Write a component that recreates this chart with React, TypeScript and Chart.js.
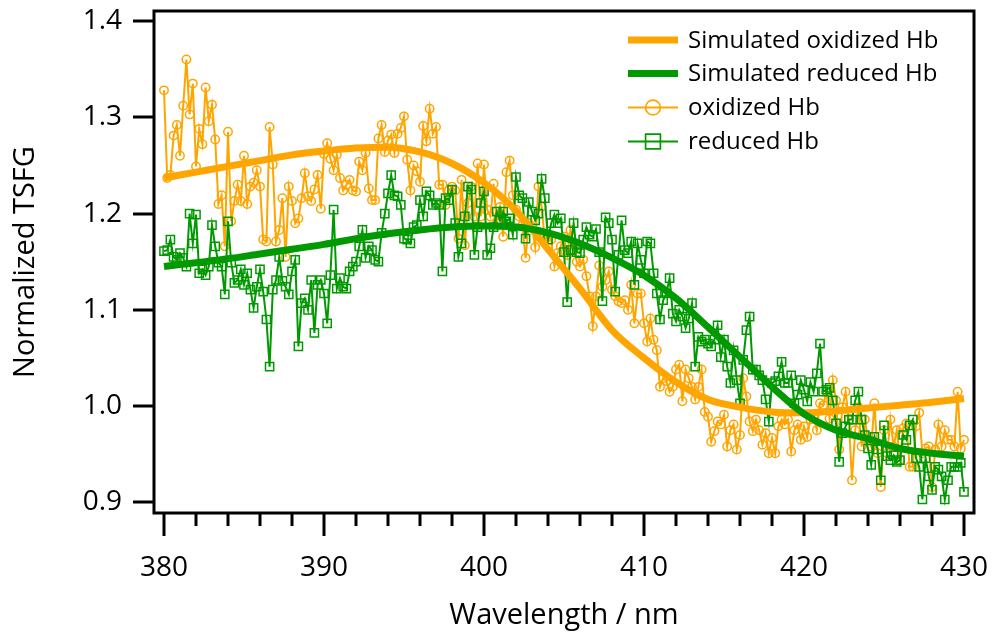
import React, { useEffect, useRef } from 'react';
import { Chart, registerables } from 'chart.js';

Chart.register(...registerables);

// Measured wavelengths (nm)
const WAVELENGTH = [
  380, 380.2, 380.4, 380.6, 380.8, 381, 381.2, 381.4, 381.6, 381.8,
  382, 382.2, 382.4, 382.6, 382.8, 383, 383.2, 383.4, 383.6, 383.8,
  384, 384.2, 384.4, 384.6, 384.8, 385, 385.2, 385.4, 385.6, 385.8,
  386, 386.2, 386.4, 386.6, 386.8, 387, 387.2, 387.4, 387.6, 387.8,
  388, 388.2, 388.4, 388.6, 388.8, 389, 389.2, 389.4, 389.6, 389.8,
  390, 390.2, 390.4, 390.6, 390.8, 391, 391.2, 391.4, 391.6, 391.8,
  392, 392.2, 392.4, 392.6, 392.8, 393, 393.2, 393.4, 393.6, 393.8,
  394, 394.2, 394.4, 394.6, 394.8, 395, 395.2, 395.4, 395.6, 395.8,
  396, 396.2, 396.4, 396.6, 396.8, 397, 397.2, 397.4, 397.6, 397.8,
  398, 398.2, 398.4, 398.6, 398.8, 399, 399.2, 399.4, 399.6, 399.8,
  400, 400.2, 400.4, 400.6, 400.8, 401, 401.2, 401.4, 401.6, 401.8,
  402, 402.2, 402.4, 402.6, 402.8, 403, 403.2, 403.4, 403.6, 403.8,
  404, 404.2, 404.4, 404.6, 404.8, 405, 405.2, 405.4, 405.6, 405.8,
  406, 406.2, 406.4, 406.6, 406.8, 407, 407.2, 407.4, 407.6, 407.8,
  408, 408.2, 408.4, 408.6, 408.8, 409, 409.2, 409.4, 409.6, 409.8,
  410, 410.2, 410.4, 410.6, 410.8, 411, 411.2, 411.4, 411.6, 411.8,
  412, 412.2, 412.4, 412.6, 412.8, 413, 413.2, 413.4, 413.6, 413.8,
  414, 414.2, 414.4, 414.6, 414.8, 415, 415.2, 415.4, 415.6, 415.8,
  416, 416.2, 416.4, 416.6, 416.8, 417, 417.2, 417.4, 417.6, 417.8,
  418, 418.2, 418.4, 418.6, 418.8, 419, 419.2, 419.4, 419.6, 419.8,
  420, 420.2, 420.4, 420.6, 420.8, 421, 421.2, 421.4, 421.6, 421.8,
  422, 422.2, 422.4, 422.6, 422.8, 423, 423.2, 423.4, 423.6, 423.8,
  424, 424.2, 424.4, 424.6, 424.8, 425, 425.2, 425.4, 425.6, 425.8,
  426, 426.2, 426.4, 426.6, 426.8, 427, 427.2, 427.4, 427.6, 427.8,
  428, 428.2, 428.4, 428.6, 428.8, 429, 429.2, 429.4, 429.6, 429.8,
  430,
];

// Measured normalized TSFG, oxidized Hb
const OXIDIZED = [
  1.328, 1.237, 1.240, 1.281, 1.292, 1.260, 1.312, 1.360, 1.303, 1.335,
  1.249, 1.288, 1.272, 1.331, 1.296, 1.313, 1.277, 1.210, 1.219, 1.166,
  1.285, 1.192, 1.213, 1.230, 1.213, 1.260, 1.210, 1.228, 1.232, 1.245,
  1.228, 1.173, 1.171, 1.290, 1.251, 1.171, 1.183, 1.216, 1.155, 1.228,
  1.213, 1.190, 1.195, 1.216, 1.242, 1.218, 1.213, 1.225, 1.240, 1.205,
  1.262, 1.273, 1.257, 1.245, 1.261, 1.237, 1.224, 1.230, 1.235, 1.224,
  1.223, 1.254, 1.245, 1.263, 1.226, 1.214, 1.214, 1.278, 1.292, 1.264,
  1.276, 1.282, 1.263, 1.283, 1.289, 1.301, 1.256, 1.224, 1.250, 1.244,
  1.233, 1.291, 1.275, 1.309, 1.283, 1.290, 1.230, 1.230, 1.209, 1.224,
  1.228, 1.224, 1.174, 1.235, 1.167, 1.211, 1.228, 1.197, 1.252, 1.197,
  1.251, 1.204, 1.197, 1.231, 1.190, 1.207, 1.176, 1.243, 1.255, 1.219,
  1.204, 1.197, 1.188, 1.154, 1.190, 1.186, 1.165, 1.228, 1.207, 1.173,
  1.176, 1.173, 1.145, 1.159, 1.166, 1.176, 1.157, 1.183, 1.162, 1.150,
  1.145, 1.152, 1.135, 1.114, 1.083, 1.114, 1.146, 1.124, 1.131, 1.140,
  1.121, 1.114, 1.109, 1.107, 1.110, 1.100, 1.126, 1.086, 1.117, 1.117,
  1.086, 1.067, 1.091, 1.069, 1.058, 1.020, 1.029, 1.026, 1.015, 1.020,
  1.038, 1.043, 1.005, 1.038, 1.029, 1.020, 1.007, 1.020, 1.038, 0.994,
  0.989, 0.963, 0.974, 0.984, 0.981, 0.991, 0.958, 0.975, 0.981, 0.955,
  0.970, 1.029, 1.010, 0.984, 0.974, 0.986, 0.975, 0.960, 0.972, 0.951,
  0.967, 0.951, 0.979, 0.986, 0.981, 0.986, 0.953, 0.975, 0.981, 0.965,
  0.979, 0.968, 0.986, 0.989, 0.975, 1.003, 1.001, 1.015, 0.987, 1.027,
  1.006, 0.955, 0.999, 1.015, 0.986, 0.923, 0.975, 0.999, 0.958, 0.986,
  0.965, 0.958, 1.003, 0.951, 0.916, 0.975, 0.951, 0.986, 0.958, 0.975,
  0.944, 0.977, 0.982, 0.937, 0.937, 0.979, 0.993, 0.951, 0.956, 0.958,
  0.916, 0.955, 0.981, 0.958, 0.975, 0.965, 0.965, 0.958, 1.015, 0.956,
  0.965,
];

// Measured normalized TSFG, reduced Hb
const REDUCED = [
  1.161, 1.162, 1.173, 1.155, 1.152, 1.159, 1.154, 1.145, 1.200, 1.169,
  1.199, 1.138, 1.142, 1.136, 1.145, 1.188, 1.166, 1.149, 1.145, 1.116,
  1.192, 1.149, 1.128, 1.131, 1.142, 1.126, 1.138, 1.121, 1.102, 1.124,
  1.142, 1.119, 1.090, 1.041, 1.121, 1.131, 1.155, 1.130, 1.124, 1.116,
  1.140, 1.152, 1.062, 1.107, 1.112, 1.100, 1.131, 1.076, 1.126, 1.131,
  1.117, 1.086, 1.136, 1.204, 1.122, 1.133, 1.124, 1.122, 1.140, 1.145,
  1.150, 1.166, 1.183, 1.154, 1.166, 1.162, 1.152, 1.150, 1.180, 1.200,
  1.221, 1.240, 1.219, 1.218, 1.209, 1.174, 1.173, 1.169, 1.186, 1.188,
  1.214, 1.197, 1.223, 1.219, 1.209, 1.211, 1.209, 1.140, 1.216, 1.214,
  1.225, 1.190, 1.155, 1.169, 1.197, 1.228, 1.225, 1.157, 1.186, 1.211,
  1.223, 1.157, 1.164, 1.186, 1.202, 1.193, 1.202, 1.192, 1.195, 1.178,
  1.238, 1.219, 1.216, 1.174, 1.212, 1.202, 1.193, 1.200, 1.236, 1.216,
  1.173, 1.190, 1.199, 1.190, 1.195, 1.160, 1.108, 1.162, 1.190, 1.160,
  1.159, 1.173, 1.186, 1.178, 1.176, 1.184, 1.160, 1.109, 1.196, 1.190,
  1.173, 1.119, 1.157, 1.193, 1.162, 1.159, 1.171, 1.126, 1.169, 1.152,
  1.138, 1.171, 1.169, 1.138, 1.117, 1.090, 1.110, 1.117, 1.133, 1.096,
  1.088, 1.100, 1.093, 1.081, 1.091, 1.107, 1.041, 1.072, 1.067, 1.069,
  1.065, 1.062, 1.069, 1.084, 1.051, 1.069, 1.041, 1.024, 1.058, 1.027,
  1.003, 1.048, 1.079, 1.093, 1.038, 1.038, 1.032, 1.027, 1.007, 0.984,
  1.024, 1.026, 1.031, 1.046, 1.024, 1.024, 1.032, 1.003, 1.012, 1.027,
  1.017, 1.005, 1.025, 1.015, 1.034, 1.065, 1.015, 1.017, 1.019, 1.006,
  0.982, 0.942, 0.972, 0.979, 0.986, 0.986, 1.006, 1.015, 0.986, 0.970,
  0.956, 0.939, 0.968, 0.955, 0.923, 0.980, 0.948, 0.944, 0.949, 0.942,
  0.944, 0.970, 0.965, 0.980, 0.986, 0.946, 0.937, 0.903, 0.946, 0.927,
  0.913, 0.937, 0.934, 0.927, 0.903, 0.923, 0.937, 0.937, 0.937, 0.941,
  0.911,
];

// Simulated curves
const SIM_WAVELENGTH = [
  380, 382, 384, 386, 388, 390, 392, 394, 396, 398, 400, 402, 404,
  406, 408, 410, 412, 414, 416, 418, 420, 422, 424, 426, 428, 430,
];
const SIM_OXIDIZED = [
  1.237, 1.243, 1.249, 1.255, 1.261, 1.265, 1.268, 1.269, 1.264, 1.252, 1.232, 1.203, 1.163,
  1.122, 1.079, 1.050, 1.025, 1.007, 0.999, 0.994, 0.993, 0.995, 0.998, 1.001, 1.004, 1.008,
];
const SIM_REDUCED = [
  1.145, 1.149, 1.153, 1.158, 1.163, 1.168, 1.174, 1.179, 1.183, 1.186, 1.187, 1.186, 1.180,
  1.169, 1.154, 1.136, 1.112, 1.082, 1.051, 1.020, 0.992, 0.975, 0.966, 0.956, 0.951, 0.948,
];

const X_TICKS = [380, 390, 400, 410, 420, 430];
const X_MINOR_TICKS = [
  382, 384, 386, 388, 392, 394, 396, 398, 402, 404, 406, 408,
  412, 414, 416, 418, 422, 424, 426, 428,
];
const Y_TICKS = [0.9, 1.0, 1.1, 1.2, 1.3, 1.4];

const ORANGE = '#FFA500';
const GREEN = '#009A00';
const FONT = "'Open Sans', 'Noto Sans', sans-serif";

const framePlugin = {
  id: 'frameTicks',
  afterDraw(chart: any) {
    const { ctx, chartArea } = chart;
    const { left, right, top, bottom } = chartArea;
    const xs = chart.scales.x;
    const ys = chart.scales.y;
    ctx.save();
    ctx.strokeStyle = '#000';
    ctx.lineWidth = 3;
    ctx.lineCap = 'butt';
    ctx.beginPath();
    X_TICKS.forEach((v) => {
      const px = Math.round(xs.getPixelForValue(v));
      ctx.moveTo(px, bottom);
      ctx.lineTo(px, bottom + 23);
    });
    X_MINOR_TICKS.forEach((v) => {
      const px = Math.round(xs.getPixelForValue(v));
      ctx.moveTo(px, bottom);
      ctx.lineTo(px, bottom + 13);
    });
    Y_TICKS.forEach((v) => {
      const py = Math.round(ys.getPixelForValue(v));
      ctx.moveTo(left, py);
      ctx.lineTo(left - 21, py);
    });
    ctx.stroke();
    ctx.strokeRect(left, top, right - left, bottom - top);
    ctx.restore();
  },
};

const legendPlugin = {
  id: 'insetLegend',
  afterDraw(chart: any) {
    const { ctx } = chart;
    const rows = [40, 73.5, 107.5, 141.5];
    const x0 = 628;
    const x1 = 678;
    ctx.save();
    chart.data.datasets.forEach((ds: any, i: number) => {
      const y = rows[i];
      ctx.strokeStyle = ds.borderColor;
      ctx.lineWidth = ds.borderWidth;
      ctx.beginPath();
      ctx.moveTo(x0, y);
      ctx.lineTo(x1, y);
      ctx.stroke();
      if (ds.pointRadius > 0) {
        const cx = (x0 + x1) / 2;
        ctx.lineWidth = 1.7;
        ctx.beginPath();
        if (ds.pointStyle === 'circle') {
          ctx.arc(cx, y, 7.4, 0, Math.PI * 2);
        } else {
          ctx.rect(cx - 7.4, y - 7.4, 14.8, 14.8);
        }
        ctx.stroke();
      }
      ctx.fillStyle = '#000';
      ctx.font = `24px ${FONT}`;
      ctx.textBaseline = 'middle';
      ctx.textAlign = 'left';
      ctx.fillText(ds.label, 688, y + 1);
    });
    ctx.restore();
  },
};

export default function App() {
  const canvasRef = useRef<HTMLCanvasElement | null>(null);

  useEffect(() => {
    if (!canvasRef.current) return;
    const chart = new Chart(canvasRef.current, {
      type: 'line',
      data: {
        datasets: [
          {
            label: 'Simulated oxidized Hb',
            data: SIM_WAVELENGTH.map((x, i) => ({ x, y: SIM_OXIDIZED[i] })),
            borderColor: ORANGE,
            borderWidth: 7,
            pointRadius: 0,
            cubicInterpolationMode: 'monotone',
            order: 2,
          },
          {
            label: 'Simulated reduced Hb',
            data: SIM_WAVELENGTH.map((x, i) => ({ x, y: SIM_REDUCED[i] })),
            borderColor: GREEN,
            borderWidth: 7,
            pointRadius: 0,
            cubicInterpolationMode: 'monotone',
            order: 1,
          },
          {
            label: 'oxidized Hb',
            data: WAVELENGTH.map((x, i) => ({ x, y: OXIDIZED[i] })),
            borderColor: ORANGE,
            borderWidth: 2,
            pointStyle: 'circle',
            pointRadius: 4.2,
            pointBorderWidth: 1.5,
            pointBorderColor: ORANGE,
            pointBackgroundColor: 'rgba(0,0,0,0)',
            tension: 0,
            order: 4,
          },
          {
            label: 'reduced Hb',
            data: WAVELENGTH.map((x, i) => ({ x, y: REDUCED[i] })),
            borderColor: GREEN,
            borderWidth: 2,
            pointStyle: 'rect',
            pointRadius: 5.8,
            pointBorderWidth: 1.5,
            pointBorderColor: GREEN,
            pointBackgroundColor: 'rgba(0,0,0,0)',
            tension: 0,
            order: 3,
          },
        ] as any,
      },
      options: {
        animation: false,
        responsive: false,
        events: [],
        layout: { padding: { left: 0, top: 11, right: 26, bottom: 0 } },
        plugins: {
          legend: { display: false },
          tooltip: { enabled: false },
        },
        scales: {
          x: {
            type: 'linear',
            min: 379.375,
            max: 430.625,
            grid: { display: false, drawTicks: false },
            border: { display: false },
            afterBuildTicks: (s: any) => {
              s.ticks = X_TICKS.map((value) => ({ value }));
            },
            afterFit: (s: any) => {
              s.height = 123;
              s.paddingLeft = 0;
              s.paddingRight = 0;
              s.paddingTop = 0;
              s.paddingBottom = 0;
            },
            ticks: {
              color: '#000',
              padding: 38,
              maxRotation: 0,
              autoSkip: false,
              font: { family: FONT, size: 28 },
              callback: (v: any) => String(v),
            },
            title: {
              display: true,
              text: 'Wavelength / nm',
              color: '#000',
              font: { family: FONT, size: 29 },
              padding: { top: 0, bottom: 3 },
            },
          },
          y: {
            type: 'linear',
            min: 0.889,
            max: 1.4104,
            grid: { display: false, drawTicks: false },
            border: { display: false },
            afterBuildTicks: (s: any) => {
              s.ticks = Y_TICKS.map((value) => ({ value }));
            },
            afterFit: (s: any) => {
              s.width = 154;
              s.paddingLeft = 0;
              s.paddingRight = 0;
              s.paddingTop = 0;
              s.paddingBottom = 0;
            },
            ticks: {
              color: '#000',
              padding: 32,
              autoSkip: false,
              font: { family: FONT, size: 28 },
              callback: (v: any) => Number(v).toFixed(1),
            },
            title: {
              display: true,
              text: 'Normalized TSFG',
              color: '#000',
              font: { family: FONT, size: 29 },
              padding: { top: 8, bottom: 0 },
            },
          },
        },
      } as any,
      plugins: [framePlugin, legendPlugin],
    });
    return () => chart.destroy();
  }, []);

  return (
    <div style={{ position: 'absolute', left: 0, top: 0, width: 1000, height: 636, background: '#fff' }}>
      <canvas ref={canvasRef} width={1000} height={636} />
    </div>
  );
}
